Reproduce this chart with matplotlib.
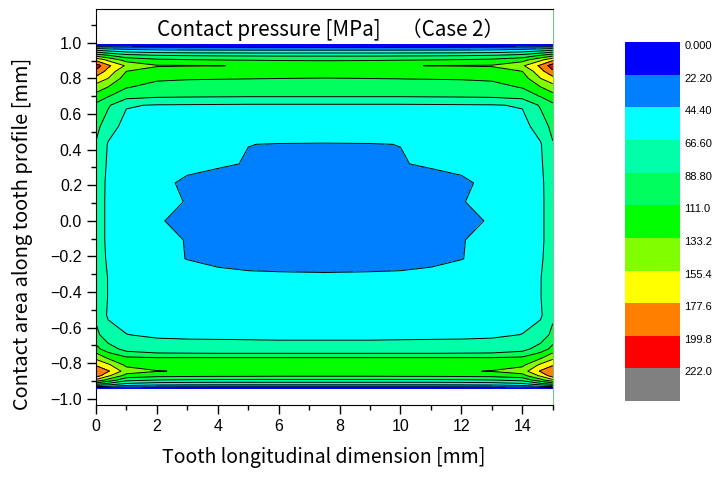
import numpy as np
import matplotlib
matplotlib.use('Agg')
import matplotlib.pyplot as plt
from matplotlib.colors import ListedColormap, BoundaryNorm
from matplotlib.cm import ScalarMappable
from matplotlib.ticker import MultipleLocator
from matplotlib.transforms import ScaledTranslation

# grid nodes (mm)
x_nodes = [0, 0.4, 1, 2, 3, 4, 5, 6, 7.5, 9, 10, 11, 12, 13, 14, 14.6, 15]
y_nodes = [0.990, 0.975, 0.955, 0.930, 0.905, 0.872, 0.840, 0.800, 0.750, 0.700,
           0.650, 0.530, 0.430, 0.320, 0.213, 0.107, 0.000, -0.107, -0.213, -0.320,
           -0.430, -0.530, -0.640, -0.720, -0.745, -0.770, -0.810, -0.845, -0.870,
           -0.895, -0.915, -0.930, -0.942]

# contact pressure [MPa], left half of the tooth (x = 0 ... 7.5), one row per y node
p_left = [
    [0, 0, 0, 0, 0, 0, 0, 0, 0],
    [30, 28, 26, 24, 23, 22.5, 22, 21.5, 21],
    [75, 66, 58, 53, 51, 50.5, 50, 50, 50],
    [125, 112, 96, 89, 87, 86, 85.5, 85, 85],
    [172, 150, 124, 115, 112, 110.5, 109.5, 108.5, 108],
    [212, 182, 152, 134.8, 134.2, 133.8, 131.4, 129, 127],
    [195, 170, 133, 125, 123, 121, 120, 119, 118],
    [170, 155, 122, 114, 112.5, 112, 111.5, 111, 110.5],
    [145, 132, 112, 104, 102, 101, 100.5, 100, 100],
    [125, 112, 97, 92, 91, 90.5, 90, 90, 90],
    [106, 92, 68, 65.5, 65, 64.5, 64, 64, 64],
    [96, 75, 60, 55, 53, 52, 51, 50.5, 50],
    [87, 65, 56, 50, 48, 46.5, 44.5, 44.1, 44],
    [80, 64, 54, 48, 46.5, 45.8, 43.8, 39.5, 38],
    [77, 63, 53, 46.5, 43, 40, 37, 35, 34],
    [76, 63, 53, 47, 44, 39, 35, 33, 32],
    [76, 63, 52, 45.5, 41.3, 37, 34, 32, 31],
    [76, 63, 53, 47, 44, 39, 35, 33, 31.5],
    [77, 64, 54, 48, 44.1, 41, 38, 34.5, 33],
    [79, 66, 58, 52, 50, 48.7, 48.2, 49, 48.8],
    [80, 66, 58, 54, 53, 53, 53, 53, 53],
    [84, 64, 59, 57, 57, 57, 57, 57, 57],
    [95, 75, 67, 63, 62, 62, 62, 62, 62],
    [118, 98, 82, 78, 77, 76, 75, 74, 74],
    [135, 115, 95, 90, 89.5, 89, 89, 89, 89],
    [150, 130, 115, 112, 112, 112, 112, 112, 112],
    [175, 160, 128, 126, 125.5, 125, 125, 125, 125],
    [198, 180, 145, 134, 131.6, 130.5, 130, 129.5, 129],
    [190, 160, 125, 118, 117, 116, 116, 115, 115],
    [150, 125, 95, 88, 86, 85, 85, 85, 85],
    [100, 85, 65, 58, 56, 55, 55, 55, 55],
    [50, 45, 35, 31, 30, 30, 30, 30, 30],
    [0, 0, 0, 0, 0, 0, 0, 0, 0],
]

levels = [0, 22.2, 44.4, 66.6, 88.8, 111.0, 133.2, 155.4, 177.6, 199.8, 222.0, 244.2]
level_labels = ['0.000', '22.20', '44.40', '66.60', '88.80', '111.0',
                '133.2', '155.4', '177.6', '199.8', '222.0']
band_colors = ['#0000FF', '#0080FF', '#00FFFF', '#00FFA8', '#00FF5C', '#00FF00',
               '#80FF00', '#FFFF00', '#FF8000', '#FF0000', '#808080']
y_ticks = [-1.0, -0.8, -0.6, -0.4, -0.2, 0.0, 0.2, 0.4, 0.6, 0.8, 1.0]
y_tick_labels = ['\u22121.0', '\u22120.8', '\u22120.6', '\u22120.4', '\u22120.2', '0.0',
                 '0.2', '0.4', '0.6', '0.8', '1.0']

JP = ['Noto Sans CJK JP', 'DejaVu Sans']
plt.rcParams['font.family'] = ['Liberation Sans', 'DejaVu Sans']

# symmetric load case: right half mirrors the left half
half = np.array(p_left, dtype=float)
P = np.hstack([half, half[:, -2::-1]])
X, Y = np.meshgrid(x_nodes, y_nodes)

fig = plt.figure(figsize=(7.16, 4.79), dpi=100)
ax = fig.add_axes([0.134, 0.1545, 0.638, 0.8265])

ax.contourf(X, Y, P, levels=levels, colors=band_colors)
ax.contour(X, Y, P, levels=levels[1:10], colors='k', linewidths=0.7)

ax.set_xlim(0, 15)
ax.set_ylim(-1.035, 1.19)
ax.xaxis.set_major_locator(MultipleLocator(2))
ax.xaxis.set_minor_locator(MultipleLocator(1))
ax.set_yticks(y_ticks)
ax.set_yticklabels(y_tick_labels)
ax.yaxis.set_minor_locator(MultipleLocator(0.1))
ax.tick_params(which='major', direction='out', length=6.5, width=1, labelsize=11.5)
ax.tick_params(which='minor', direction='out', length=3.5, width=1)
ax.tick_params(top=False, right=False)
ax.spines['right'].set_color('#7cc47c')

ax.text(7.7, 1.075, 'Contact pressure [MPa]\u3000\uff08Case 2\uff09', ha='center', va='center',
        fontsize=14.8, family=JP)
fig.text(324 / 716, 1 - 458 / 479, 'Tooth longitudinal dimension [mm]', ha='center', va='center',
         fontsize=14, family=JP)
fig.text(23 / 716, 1 - 234 / 479, 'Contact area along tooth profile [mm]', ha='center', va='center',
         rotation=90, fontsize=14.4, family=JP)

# discrete legend bar, 0 at the top
cax = fig.add_axes([0.873, 0.1628, 0.077, 0.749])
sm = ScalarMappable(norm=BoundaryNorm(levels, len(band_colors)), cmap=ListedColormap(band_colors))
cb = fig.colorbar(sm, cax=cax)
cb.outline.set_visible(False)
cb.set_ticks(levels[:11])
cb.set_ticklabels(level_labels)
cax.minorticks_off()
cax.invert_yaxis()
cax.tick_params(which='both', length=0, labelsize=8, pad=3)
shift = ScaledTranslation(0, -3 / 100, fig.dpi_scale_trans)
for lab in cax.get_yticklabels():
    lab.set_transform(lab.get_transform() + shift)

fig.savefig('out.png', dpi=100)
